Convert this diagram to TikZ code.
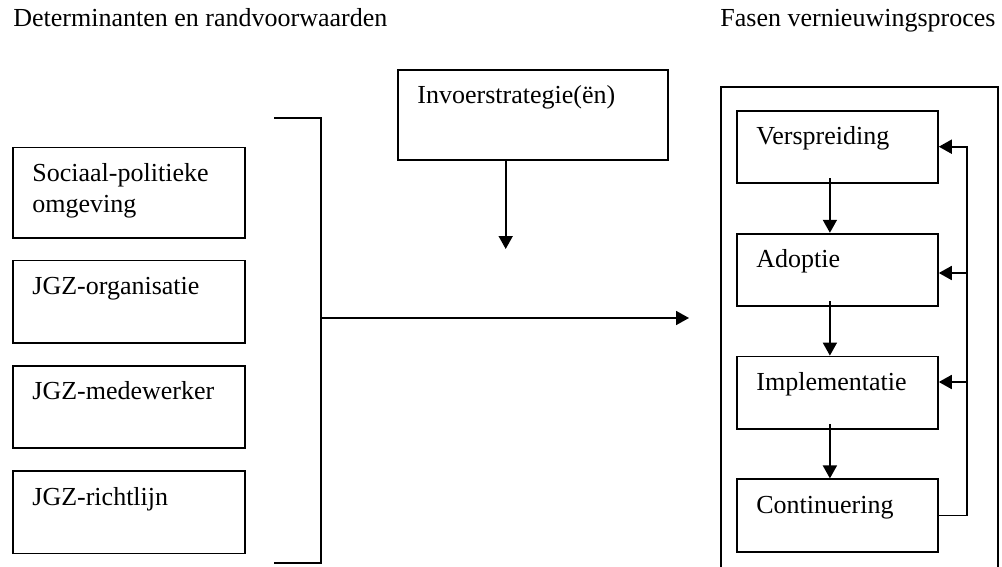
\documentclass[tikz,border=0pt]{standalone}
\usepackage{fontspec}
\setmainfont{Liberation Serif}
\usetikzlibrary{positioning,arrows.meta}
\tikzset{
  kader/.style={draw, line width=0.9pt, anchor=north west, inner sep=0pt},
  links/.style={kader, minimum width=116pt, minimum height=41.25pt},
  fase/.style={kader, minimum width=100.5pt, minimum height=36.25pt},
  tekst/.style={anchor=base west, xshift=10pt, yshift=-17.5pt, align=left,
    inner sep=0pt, font=\fontsize{13}{15.5}\selectfont},
  kop/.style={anchor=base west, inner sep=0pt, font=\fontsize{13}{15.5}\selectfont},
  pijl/.style={line width=0.9pt, -{Triangle[width=7pt,length=6.5pt]}},
  lijn/.style={line width=0.9pt}
}
\begin{document}
\begin{tikzpicture}[x=0.5pt,y=-0.5pt]
     		\useasboundingbox (0,0) rectangle (1002,567);
     		% koppen
     		\node[kop] (kopl) at (13,27) {Determinanten en randvoorwaarden};
     		\node[kop] (kopr) at (720,27) {Fasen vernieuwingsproces};
     		% determinanten
     		\node[links, minimum height=45pt, label={[tekst, yshift=-15.5pt]north west:{Sociaal-politieke\\omgeving}}] (soc) at (12,146.7) {};
     		\node[links, below=10.5pt of soc, label={[tekst]north west:JGZ-organisatie}] (org) {};
     		\node[links, below=10.5pt of org, label={[tekst]north west:JGZ-medewerker}] (mdw) {};
     		\node[links, below=10.5pt of mdw, label={[tekst]north west:JGZ-richtlijn}] (rl) {};
     		% haak
     		\coordinate (ht) at (274,118);
     		\coordinate (hb) at (274,563);
     		\coordinate (hm) at (320.7,318);
     		\draw[lijn] (ht) -| (hm) |- (hb);
     		\coordinate (doel) at (689,318);
     		\draw[pijl] (hm) -- (doel);
     		% invoerstrategie
     		\node[kader, minimum width=135pt, minimum height=45pt, label={[tekst]north west:Invoerstrategie(ën)}] (inv) at (397,69) {};
     		\coordinate (invpunt) at (505.7,249);
     		\draw[pijl] (inv.south -| invpunt) -- (invpunt);
     		% fasen
     		\draw[lijn] (721,567) -- (721,86.7) -- (998,86.7) -- (998,567);
     		\node[fase, label={[tekst]north west:Verspreiding}] (versp) at (736,110) {};
     		\node[fase, below=24.25pt of versp, label={[tekst]north west:Adoptie}] (adop) {};
     		\node[fase, below=24.25pt of adop, label={[tekst]north west:Implementatie}] (impl) {};
     		\node[fase, below=24.25pt of impl, label={[tekst]north west:Continuering}] (cont) {};
     		\foreach \a/\b in {versp/adop,adop/impl,impl/cont}{
     		\draw[pijl] ([xshift=-3.75pt,yshift=3pt]\a.south) -- ([xshift=-3.75pt]\b.north);
     		}
     		% terugkoppeling
     		\coordinate (lus) at (967,146.7);
     		\draw[pijl] (cont.east) -| (lus) -- (lus -| versp.east);
     		\coordinate (lusa) at (967,273);
     		\coordinate (lusi) at (967,382);
     		\draw[pijl] (lusa) -- (lusa -| adop.east);
     		\draw[pijl] (lusi) -- (lusi -| impl.east);
\end{tikzpicture}
\end{document}
